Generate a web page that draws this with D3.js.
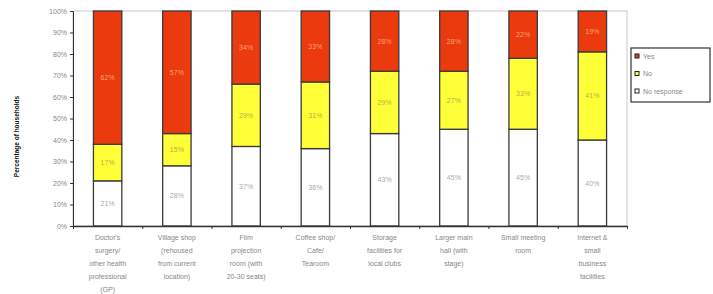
<!DOCTYPE html>
<html>
<head>
<meta charset="utf-8">
<script src="https://cdn.jsdelivr.net/npm/d3@7"></script>
<style>
  body { margin: 0; background: #fff; }
  svg { display: block; font-family: "Liberation Sans", Arial, sans-serif; }
</style>
</head>
<body>
<div id="chart"></div>
<script>
// categories (split into lines as in the original)
const categories = [
  ["Doctor's", "surgery/", "other health", "professional", "(GP)"],
  ["Village shop", "(rehoused", "from current", "location)"],
  ["Film", "projection", "room (with", "20-30 seats)"],
  ["Coffee shop/", "Cafe/", "Tearoom"],
  ["Storage", "facilities for", "local clubs"],
  ["Larger main", "hall (with", "stage)"],
  ["Small meeting", "room"],
  ["Internet &", "small", "business", "facilities"]
];
const noResponse = [21, 28, 37, 36, 43, 45, 45, 40];
const no = [17, 15, 29, 31, 29, 27, 33, 41];
const yes = [62, 57, 34, 33, 28, 28, 22, 19];
const seriesNames = ["No response", "No", "Yes"];
const yTicks = [0, 10, 20, 30, 40, 50, 60, 70, 80, 90, 100];

const W = 713, H = 294;
const margin = { left: 73, top: 11, right: 86, bottom: 68 };
const plotW = W - margin.left - margin.right;
const plotH = H - margin.top - margin.bottom;

const colors = { "No response": "#ffffff", "No": "#ffff38", "Yes": "#ea3a0e" };
const labelColors = { "No response": "#aaaaaa", "No": "#b8b040", "Yes": "#f7a27a" };

const svg = d3.select("#chart").append("svg").attr("width", W).attr("height", H);
const g = svg.append("g").attr("transform", `translate(${margin.left},${margin.top})`);

const idx = d3.range(categories.length);
const x = d3.scaleBand().domain(idx).range([0, plotW]).paddingInner(0.59).paddingOuter(0.295);
const y = d3.scaleLinear().domain([0, 100]).range([plotH, 0]);

// plot area border
g.append("rect")
  .attr("x", 0).attr("y", 0).attr("width", plotW).attr("height", plotH)
  .attr("fill", "none").attr("stroke", "#c8c8c8").attr("stroke-width", 1);

// stack data
const rows = idx.map(i => ({ i: i, "No response": noResponse[i], "No": no[i], "Yes": yes[i] }));
const stacked = d3.stack().keys(seriesNames)(rows);

const layers = g.selectAll(".layer")
  .data(stacked)
  .join("g")
  .attr("class", "layer");

layers.selectAll("rect")
  .data(d => d.map(v => ({ key: d.key, v: v })))
  .join("rect")
  .attr("x", d => x(d.v.data.i))
  .attr("y", d => y(d.v[1]))
  .attr("width", x.bandwidth())
  .attr("height", d => y(d.v[0]) - y(d.v[1]))
  .attr("fill", d => colors[d.key])
  .attr("stroke", "#3a3a3a")
  .attr("stroke-width", 1.3);

// value labels
layers.selectAll("text")
  .data(d => d.map(v => ({ key: d.key, v: v })))
  .join("text")
  .attr("x", d => x(d.v.data.i) + x.bandwidth() / 2)
  .attr("y", d => y((d.v[0] + d.v[1]) / 2) + 2.5)
  .attr("text-anchor", "middle")
  .style("font-size", "7px")
  .attr("fill", d => labelColors[d.key])
  .text(d => (d.v[1] - d.v[0]) + "%");

// y axis
const yAxis = g.append("g")
  .call(d3.axisLeft(y).tickValues(yTicks).tickFormat(d => d + "%").tickSize(3).tickPadding(3));
yAxis.select(".domain").attr("stroke", "#333");
yAxis.selectAll(".tick line").attr("stroke", "#333");
yAxis.selectAll("text").attr("fill", "#888").style("font-size", "7px");

// x axis with ticks on category boundaries
const xb = d3.scaleLinear().domain([0, categories.length]).range([0, plotW]);
const xAxis = g.append("g")
  .attr("transform", `translate(0,${plotH})`)
  .call(d3.axisBottom(xb).ticks(categories.length).tickFormat("").tickSize(3).tickSizeOuter(0));
xAxis.select(".domain").attr("stroke", "#333").attr("stroke-width", 1.3);
xAxis.selectAll(".tick line").attr("stroke", "#333");

// category labels
const catLabels = g.append("g").selectAll("text")
  .data(idx)
  .join("text")
  .attr("x", i => x(i) + x.bandwidth() / 2)
  .attr("y", plotH + 14)
  .attr("text-anchor", "middle")
  .attr("fill", "#888")
  .style("font-size", "7px");
catLabels.selectAll("tspan")
  .data(i => categories[i].map(s => ({ s: s, i: i })))
  .join("tspan")
  .attr("x", d => x(d.i) + x.bandwidth() / 2)
  .attr("dy", (d, k) => k === 0 ? 0 : 13)
  .text(d => d.s);

// y axis title
svg.append("text")
  .attr("transform", `translate(19,${margin.top + plotH / 2 + 18}) rotate(-90)`)
  .attr("text-anchor", "middle")
  .style("font-size", "6.5px")
  .style("font-weight", "bold")
  .attr("fill", "#111")
  .text("Percentage of households");

// legend
const legend = svg.append("g").attr("transform", "translate(631,48)");
legend.append("rect")
  .attr("width", 79).attr("height", 54)
  .attr("fill", "#fff").attr("stroke", "#333").attr("stroke-width", 1.2);
const legendItems = ["Yes", "No", "No response"];
legendItems.forEach((k, j) => {
  legend.append("rect")
    .attr("x", 4).attr("y", 8 + j * 17.5 - 2)
    .attr("width", 4).attr("height", 4)
    .attr("fill", colors[k]).attr("stroke", "#222").attr("stroke-width", 1);
  legend.append("text")
    .attr("x", 12).attr("y", 8 + j * 17.5 + 2.5)
    .style("font-size", "7px")
    .attr("fill", "#888")
    .text(k);
});
</script>
</body>
</html>
